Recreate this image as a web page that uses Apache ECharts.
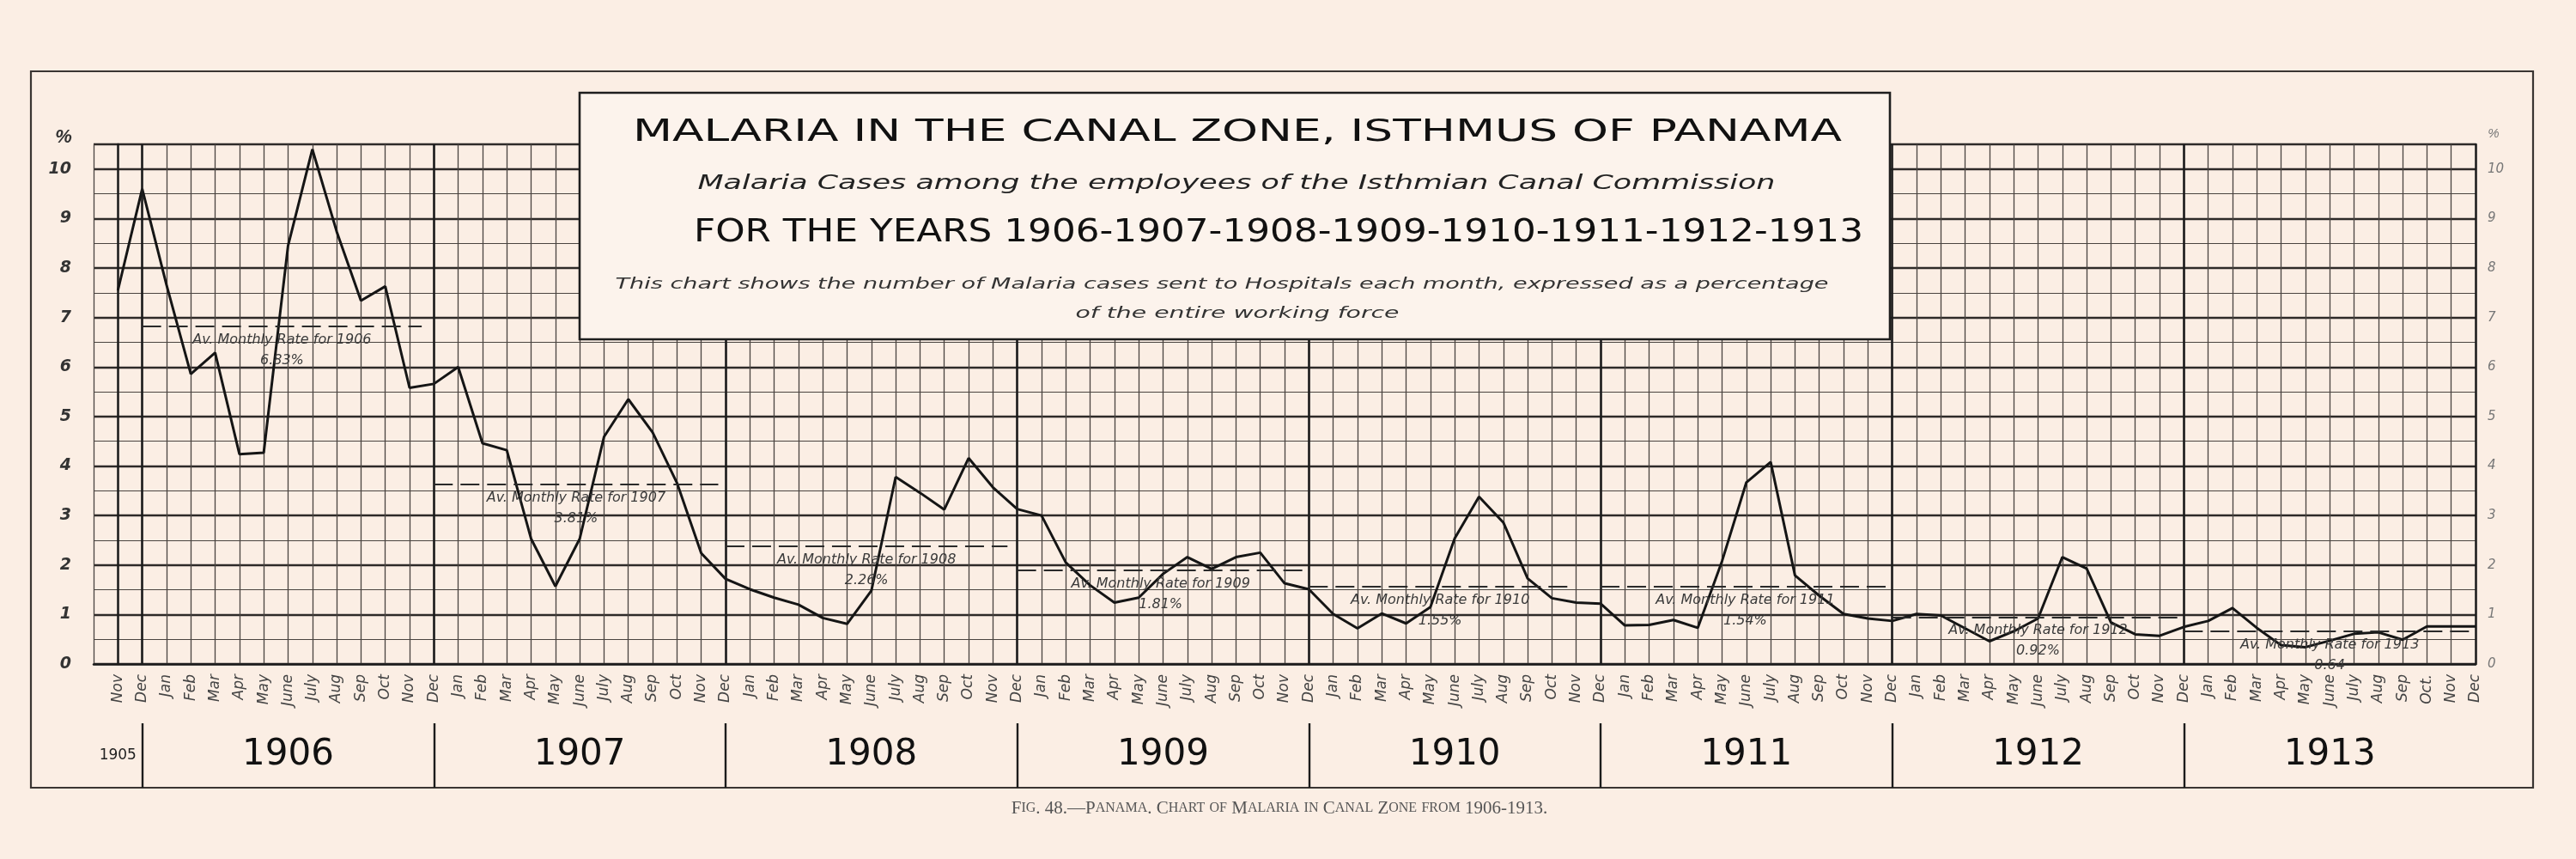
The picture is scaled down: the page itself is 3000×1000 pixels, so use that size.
<!DOCTYPE html>
<html>
<head>
<meta charset="utf-8">
<script src="https://cdn.jsdelivr.net/npm/echarts@6/dist/echarts.min.js"></script>
<style>
html,body{margin:0;padding:0;background:#fbeee4;}
#chart{width:3000px;height:1000px;}
</style>
</head>
<body>
<div id="chart"></div>
<script>
// ---------------- DATA ----------------
const monthLabels = [
  'Nov','Dec',
  'Jan','Feb','Mar','Apr','May','June','July','Aug','Sep','Oct','Nov','Dec',
  'Jan','Feb','Mar','Apr','May','June','July','Aug','Sep','Oct','Nov','Dec',
  'Jan','Feb','Mar','Apr','May','June','July','Aug','Sep','Oct','Nov','Dec',
  'Jan','Feb','Mar','Apr','May','June','July','Aug','Sep','Oct','Nov','Dec',
  'Jan','Feb','Mar','Apr','May','June','July','Aug','Sep','Oct','Nov','Dec',
  'Jan','Feb','Mar','Apr','May','June','July','Aug','Sep','Oct','Nov','Dec',
  'Jan','Feb','Mar','Apr','May','June','July','Aug','Sep','Oct','Nov','Dec',
  'Jan','Feb','Mar','Apr','May','June','July','Aug','Sep','Oct.','Nov','Dec'
];
// monthly malaria rate (% of working force), Nov 1905 .. Dec 1913
const malariaRates = [
  7.55, 9.6,
  7.66, 5.86, 6.29, 4.24, 4.27, 8.45, 10.4, 8.74, 7.34, 7.63, 5.58, 5.66,
  6.0, 4.46, 4.32, 2.53, 1.57, 2.53, 4.59, 5.35, 4.68, 3.66, 2.24, 1.72,
  1.51, 1.34, 1.2, 0.93, 0.81, 1.48, 3.78, 3.46, 3.12, 4.16, 3.57, 3.13,
  3.0, 2.05, 1.59, 1.24, 1.34, 1.82, 2.16, 1.92, 2.16, 2.25, 1.63, 1.51,
  1.01, 0.72, 1.02, 0.82, 1.15, 2.54, 3.38, 2.86, 1.73, 1.33, 1.24, 1.22,
  0.78, 0.79, 0.89, 0.73, 2.08, 3.67, 4.08, 1.79, 1.38, 1.01, 0.92, 0.87,
  1.01, 0.98, 0.72, 0.46, 0.66, 0.92, 2.16, 1.93, 0.84, 0.6, 0.57, 0.75,
  0.87, 1.13, 0.73, 0.38, 0.34, 0.47, 0.61, 0.64, 0.49, 0.76, 0.76, 0.76
];
const yearNames = ['1906','1907','1908','1909','1910','1911','1912','1913'];
const yearCenters = [7, 19, 31, 43, 55, 67, 79, 91];
const yearDividers = [1, 13, 25, 37, 49, 61, 73, 85];
const firstYearName = '1905';
const firstYearCenter = 0;
const avgLevels = [6.83, 3.63, 2.38, 1.9, 1.56, 1.56, 0.95, 0.66];
const avgLabels = ['6.83%', '3.81%', '2.26%', '1.81%', '1.55%', '1.54%', '0.92%', '0.64'];
const avgFrom = [1, 13, 25, 37, 49, 61, 73, 85];
const avgTo = [12.5, 24.7, 36.6, 48.8, 59.8, 72.9, 85, 97];
const yTickLabels = [0,1,2,3,4,5,6,7,8,9,10];
const unitMark = '%';

const titleMain = 'MALARIA IN THE CANAL ZONE, ISTHMUS OF PANAMA';
const titleSub = 'Malaria Cases among the employees of the Isthmian Canal Commission';
const titleYears = 'FOR THE YEARS 1906-1907-1908-1909-1910-1911-1912-1913';
const noteLine1 = 'This chart shows the number of Malaria cases sent to Hospitals each month, expressed as a percentage';
const noteLine2 = 'of the entire working force';
const captionText = 'Fig. 48.—Panama. Chart of Malaria in Canal Zone from 1906-1913.';

// ---------------- LAYOUT HELPERS ----------------
const mctx = document.createElement('canvas').getContext('2d');
function fitScale(text, font, target) {
  mctx.font = font;
  return target / mctx.measureText(text).width;
}
function boxText(text, cx, cy, size, italic, targetW, color) {
  const style = italic ? 'italic' : 'normal';
  const fam = '"DejaVu Sans"';
  const font = style + ' normal ' + size + 'px ' + fam;
  const s = fitScale(text, font, targetW);
  return {
    type: 'text', x: cx, y: cy, scaleX: s, z: 60, silent: true,
    style: {
      text: text, x: 0, y: 0, fill: color || '#111',
      font: font, fontSize: size, fontStyle: style, fontFamily: fam,
      align: 'center', verticalAlign: 'middle',
      textAlign: 'center', textVerticalAlign: 'middle'
    }
  };
}
function smallCapsRich(str) {
  let out = '';
  const parts = str.match(/[a-z]+|[^a-z]+/g);
  parts.forEach(p => {
    if (/^[a-z]+$/.test(p)) out += '{b|' + p.toUpperCase() + '}';
    else out += '{a|' + p + '}';
  });
  return out;
}

const gridLineColor = '#4a4440';
const inkColor = '#1c1c1c';

const option = {
  backgroundColor: '#fbeee4',
  animation: false,
  textStyle: { fontFamily: '"DejaVu Sans"' },
  grid: [
    { left: 109, right: 117, top: 168, height: 605 },
    { left: 109, right: 117, top: 842, height: 75 }
  ],
  xAxis: [
    {
      gridIndex: 0, type: 'value', min: -1, max: 97, interval: 1,
      axisLine: { show: true, lineStyle: { color: inkColor, width: 2.5 } },
      axisTick: { show: false },
      splitLine: { show: true, lineStyle: { color: gridLineColor, width: 1.3 } },
      axisLabel: {
        show: true, rotate: 90, margin: 12, interval: 0,
        fontSize: 17, fontStyle: 'italic', color: '#444',
        fontFamily: '"DejaVu Sans"',
        formatter: v => (monthLabels[v] !== undefined ? monthLabels[v] : '')
      }
    },
    { gridIndex: 1, type: 'value', min: -1, max: 97, show: false }
  ],
  yAxis: [
    {
      gridIndex: 0, type: 'value', min: 0, max: 10.5, interval: 0.5, position: 'left',
      axisLine: { show: true, lineStyle: { color: inkColor, width: 2.5 } },
      axisTick: { show: false },
      splitLine: { show: true, lineStyle: { color: gridLineColor, width: 1.2 } },
      axisLabel: {
        margin: 26, fontSize: 19, fontStyle: 'italic', fontWeight: 'bold', color: '#333',
        formatter: v => (yTickLabels.indexOf(v) >= 0 ? String(v) : '')
      }
    },
    {
      gridIndex: 0, type: 'value', min: 0, max: 10.5, interval: 1, position: 'right',
      axisLine: { show: true, lineStyle: { color: inkColor, width: 2.5 } },
      axisTick: { show: false },
      splitLine: { show: true, lineStyle: { color: '#2e2a28', width: 2.4 } },
      axisLabel: {
        margin: 14, fontSize: 15, fontStyle: 'italic', color: '#777',
        formatter: v => (yTickLabels.indexOf(v) >= 0 ? String(v) : '')
      }
    },
    { gridIndex: 1, type: 'value', min: 0, max: 1, show: false }
  ],
  series: [
    {
      type: 'line', xAxisIndex: 0, yAxisIndex: 0, z: 4,
      data: malariaRates.map((v, i) => [i, v]),
      symbol: 'none',
      lineStyle: { color: '#151515', width: 3 }
    },
    {
      type: 'line', xAxisIndex: 0, yAxisIndex: 0, data: [], z: 3,
      markLine: {
        silent: true, symbol: ['none', 'none'], animation: false,
        label: { show: false },
        lineStyle: { color: inkColor, width: 2.6, type: 'solid' },
        data: yearDividers.map(x => ({ xAxis: x }))
      }
    },
    {
      type: 'line', xAxisIndex: 0, yAxisIndex: 0, data: [], z: 5,
      markLine: {
        silent: true, symbol: ['none', 'none'], animation: false,
        lineStyle: { color: '#2a2a2a', width: 2.2, type: [22, 9] },
        label: {
          show: true, position: 'insideMiddleBottom', distance: 4,
          fontSize: 16, fontStyle: 'italic', color: '#3a3a3a', lineHeight: 24, align: 'center'
        },
        data: avgLevels.map((lvl, k) => [
          { coord: [avgFrom[k], lvl], label: { formatter: 'Av. Monthly Rate for ' + yearNames[k] + '\n' + avgLabels[k] } },
          { coord: [avgTo[k], lvl] }
        ])
      }
    },
    {
      type: 'line', xAxisIndex: 1, yAxisIndex: 2, data: [], z: 3,
      markLine: {
        silent: true, symbol: ['none', 'none'], animation: false,
        label: { show: false },
        lineStyle: { color: inkColor, width: 2.4, type: 'solid' },
        data: yearDividers.map(x => ({ xAxis: x }))
      }
    },
    {
      type: 'scatter', xAxisIndex: 1, yAxisIndex: 2, z: 4,
      symbolSize: 1, itemStyle: { color: 'rgba(0,0,0,0)', opacity: 1 },
      data: yearCenters.map((c, k) => ({ value: [c, 0.5], name: yearNames[k] })),
      label: { show: true, position: 'inside', formatter: p => p.name, fontSize: 42, color: '#111', fontFamily: '"DejaVu Sans"' }
    },
    {
      type: 'scatter', xAxisIndex: 1, yAxisIndex: 2, z: 4,
      symbolSize: 1, itemStyle: { color: 'rgba(0,0,0,0)', opacity: 1 },
      data: [{ value: [firstYearCenter, 0.5], name: firstYearName }],
      label: { show: true, position: 'inside', formatter: p => p.name, fontSize: 17, color: '#222' }
    }
  ],
  graphic: [
    { type: 'rect', z: 1, silent: true, shape: { x: 36, y: 83, width: 2914, height: 834 },
      style: { fill: 'none', stroke: '#3a3532', lineWidth: 2.2 } },
    { type: 'text', x: 74, y: 160, z: 60, silent: true,
      style: { text: unitMark, fontSize: 22, fontStyle: 'italic', fontWeight: 'bold', fill: '#333',
               align: 'center', verticalAlign: 'middle', textAlign: 'center', textVerticalAlign: 'middle' } },
    { type: 'text', x: 2904, y: 156, z: 60, silent: true,
      style: { text: unitMark, fontSize: 15, fontStyle: 'italic', fill: '#777',
               align: 'center', verticalAlign: 'middle', textAlign: 'center', textVerticalAlign: 'middle' } },
    { type: 'rect', z: 50, silent: true, shape: { x: 675, y: 108, width: 1526, height: 287 },
      style: { fill: '#fcf3ec', stroke: '#1e1e1e', lineWidth: 2.6 } },
    boxText(titleMain, 1441, 155, 35, false, 1408),
    boxText(titleSub, 1440, 214, 23, true, 1255, '#222'),
    boxText(titleYears, 1489, 271, 38, false, 1362),
    boxText(noteLine1, 1423, 331, 18, true, 1413, '#333'),
    boxText(noteLine2, 1441, 365, 18, true, 377, '#333'),
    {
      type: 'text', x: 1490, y: 941, z: 60, silent: true,
      style: {
        text: smallCapsRich(captionText),
        align: 'center', verticalAlign: 'middle', textAlign: 'center', textVerticalAlign: 'middle',
        fill: '#555',
        rich: {
          a: { fontFamily: '"Liberation Serif"', fontSize: 21, fill: '#555', color: '#555' },
          b: { fontFamily: '"Liberation Serif"', fontSize: 16, fill: '#555', color: '#555' }
        }
      }
    }
  ]
};

const chart = echarts.init(document.getElementById('chart'), null, { renderer: 'canvas' });
chart.setOption(option);
</script>
</body>
</html>
